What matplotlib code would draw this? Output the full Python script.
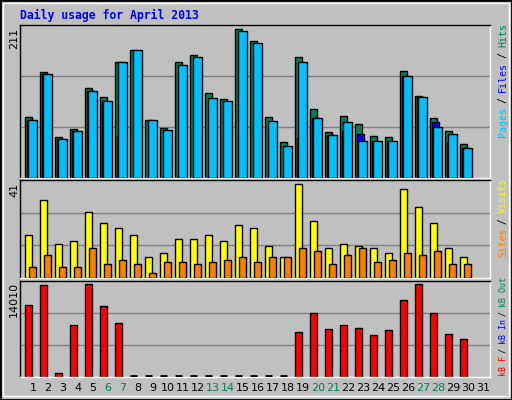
import matplotlib
matplotlib.use("Agg")
import matplotlib.pyplot as plt
from matplotlib.patches import Rectangle
import numpy as np

days = list(range(1, 32))
hits = [86, 151, 58, 70, 128, 115, 165, 182, 82, 71, 165, 174, 121, 112, 211, 195, 86, 51, 171, 98, 65, 88, 76, 59, 58, 152, 116, 85, 66, 48]
files = [83, 148, 55, 66, 124, 109, 164, 182, 82, 68, 161, 171, 114, 109, 208, 192, 81, 45, 164, 85, 61, 79, 53, 52, 52, 145, 115, 72, 63, 42]
pages = [83, 148, 55, 66, 124, 109, 60, 0, 0, 0, 0, 0, 0, 0, 0, 0, 0, 0, 57, 85, 61, 67, 63, 52, 52, 145, 115, 79, 51, 42]
visits = [19, 34, 15, 16, 29, 24, 22, 19, 9, 11, 17, 17, 19, 16, 23, 22, 14, 9, 41, 25, 13, 15, 14, 13, 11, 39, 31, 24, 13, 9]
sites = [5, 10, 5, 5, 13, 6, 8, 6, 2, 7, 7, 6, 7, 8, 9, 7, 9, 9, 13, 12, 6, 10, 13, 7, 8, 11, 10, 12, 6, 6]
kbytes = [10903, 13806, 662, 7846, 14010, 10750, 8151, 0, 0, 0, 0, 0, 0, 0, 0, 0, 0, 0, 6776, 9680, 7234, 7846, 7387, 6317, 7081, 11666, 14010, 9680, 6470, 5706]
weekend = [6, 7, 13, 14, 20, 21, 27, 28]

W, H = 512, 400
BG = "#C0C0C0"
fig = plt.figure(figsize=(W/100, H/100), dpi=100, facecolor=BG)
mono = "DejaVu Sans Mono"

def ax_at(x0, y0, x1, y1):
    return fig.add_axes([x0/W, 1-y1/H, (x1-x0)/W, (y1-y0)/H])

PX = 15.0
def xl(ax):
    ax.set_xlim(1 - 13/PX, 1 + (490-33)/PX)

def style(ax, top):
    ax.set_facecolor(BG)
    ax.set_xticks([]); ax.set_yticks([])
    for s in ax.spines.values():
        s.set_color("black"); s.set_linewidth(1)
    ax.spines["right"].set_color("white"); ax.spines["bottom"].set_color("white")
    ax.set_ylim(0, top)
    for f in (1/3, 2/3):
        ax.axhline(top*f, color="#808080", lw=1, zorder=0)

d = np.array(days[:30])
u = 1/PX
a1 = ax_at(20, 25, 490, 178); xl(a1)
style(a1, max(hits)/0.972)
a1.bar(d - 7.7*u, hits, width=7*u, align="edge", color="#00805C", edgecolor="black", lw=1, zorder=2)
a1.bar(d - 5.7*u, pages, width=7*u, align="edge", color="#0000FF", edgecolor="black", lw=1, zorder=3)
a1.bar(d - 4.7*u, files, width=8.4*u, align="edge", color="#00C0FF", edgecolor="black", lw=1, zorder=4)

a2 = ax_at(20, 180, 490, 278); xl(a2)
style(a2, max(visits)/0.955)
a2.bar(d - 7.7*u, visits, width=7*u, align="edge", color="#FFFF00", edgecolor="black", lw=1, zorder=2)
a2.bar(d - 3.7*u, sites, width=7*u, align="edge", color="#FF8000", edgecolor="black", lw=1, zorder=3)

a3 = ax_at(20, 281, 490, 377); xl(a3)
style(a3, max(kbytes)/0.968)
kb = np.array(kbytes)
a3.bar(d - 7.7*u, kb, width=7*u, align="edge", color="#FF0000", edgecolor="black", lw=1, zorder=2)
for dd, v in zip(d, kb):
    if v == 0:
        a3.hlines(max(kbytes)*0.008, dd - 7.7*u, dd - 0.7*u, color="black", lw=2, zorder=3)

for dd in days:
    x = 33 + PX*(dd-1)
    fig.text(x/W, 1-388/H, str(dd), ha="center", va="center", fontsize=8,
             color="#00805C" if dd in weekend else "black", family="DejaVu Sans")

fig.text(20/W, 1-15/H, "Daily usage for April 2013", ha="left", va="center",
         fontsize=8.3, weight="bold", color="#0000FF", family=mono)

for txt, ytop in (("211", 28), ("41", 183), ("14010", 282)):
    fig.text(14/W, 1-ytop/H, txt, rotation=90, ha="center", va="top", fontsize=8, family="DejaVu Sans")

def rlabel(ybot, segs, cpx, fs):
    y = ybot
    for t, c in segs:
        fig.text(503/W, 1-y/H, t, rotation=90, ha="center", va="bottom", fontsize=fs, color=c, family=mono)
        y -= len(t)*cpx

rlabel(137, [("Pages", "#00C0FF"), (" / ", "black"), ("Files", "#0000FF"), (" / ", "black"), ("Hits", "#00805C")], 5.65, 7.2)
rlabel(257, [("Sites", "#FF8000"), (" / ", "black"), ("Visits", "#FFFF00")], 5.5, 7.0)
rlabel(376, [("kB F", "#FF0000"), (" / ", "black"), ("kB In", "#0000FF"), (" / ", "black"), ("kB Out", "#00805C")], 4.6, 6.0)

fig.patches.append(Rectangle((0, 0), 1, 1, transform=fig.transFigure, fill=False, edgecolor="black", lw=2))
fig.patches.append(Rectangle((3/W, 4/H), 1-6/W, 1-7/H, transform=fig.transFigure, fill=False, edgecolor="white", lw=1))

fig.savefig("out.png", dpi=100, facecolor=BG)
